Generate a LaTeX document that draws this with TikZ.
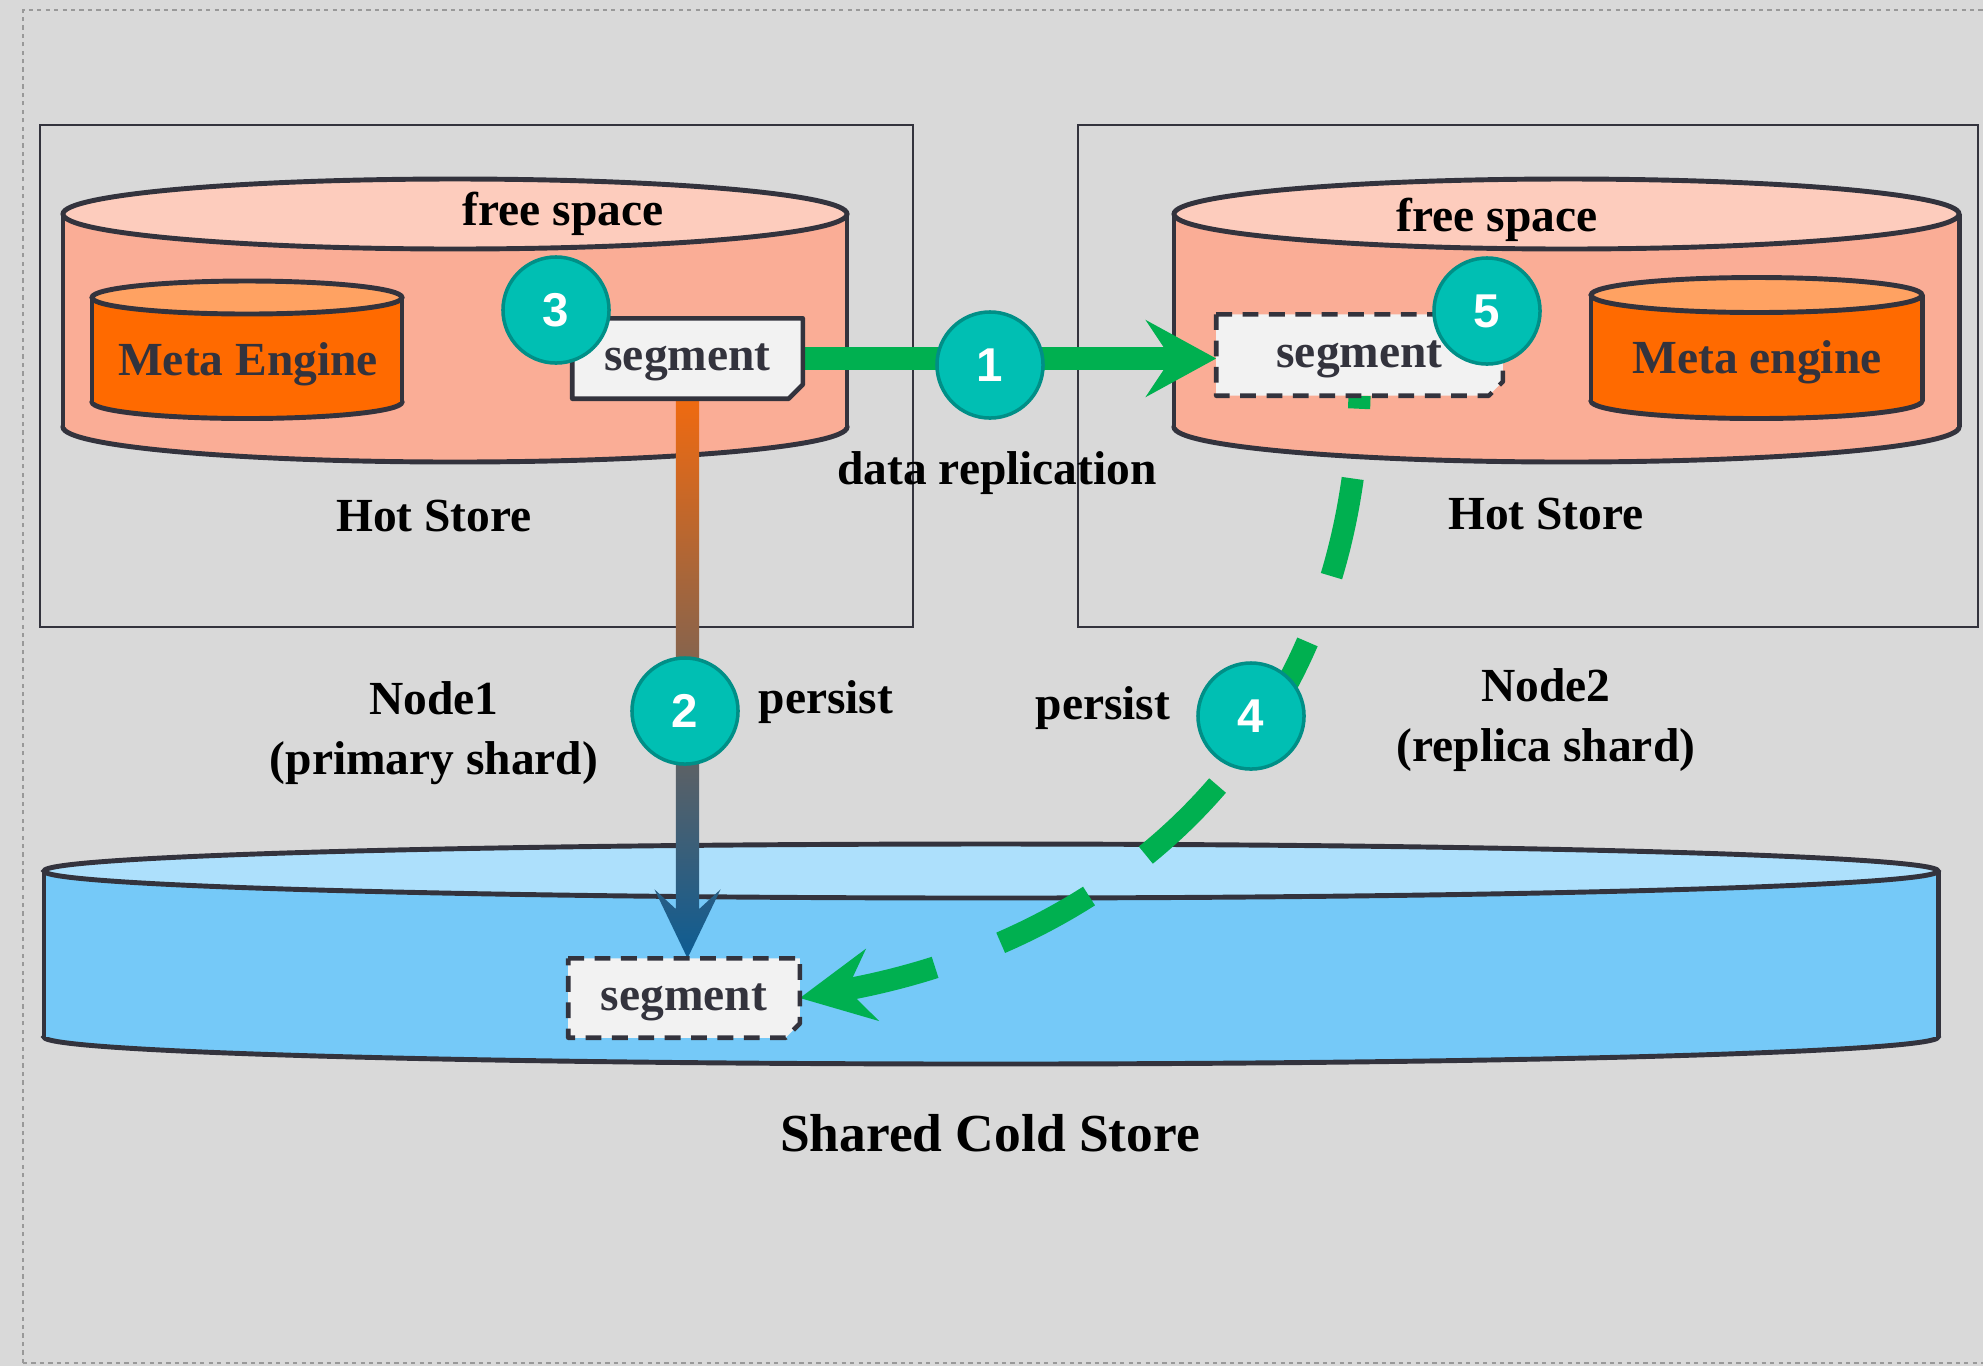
\documentclass[tikz,border=0pt]{standalone}
\usepackage{fontspec}
\setmainfont{Liberation Serif}
\newfontfamily\numfont{Liberation Sans}
\usetikzlibrary{arrows.meta,calc}

\definecolor{canvas}{HTML}{D9D9D9}
\definecolor{edge}{HTML}{33333D}
\definecolor{hotbody}{HTML}{FAAD96}
\definecolor{hottop}{HTML}{FDCCBD}
\definecolor{metabody}{HTML}{FF6A00}
\definecolor{metatop}{HTML}{FFA262}
\definecolor{coldbody}{HTML}{75C9F8}
\definecolor{coldtop}{HTML}{ADE0FC}
\definecolor{segfill}{HTML}{F2F2F2}
\definecolor{badgefill}{HTML}{00BFB3}
\definecolor{badgeline}{HTML}{008F87}
\definecolor{flow}{HTML}{00B050}
\definecolor{persisttop}{HTML}{F06A10}
\definecolor{persistbot}{HTML}{0D5C93}

% drum: centre x, top y, bottom y, x radius, y radius, body, lid
\newcommand{\drum}[7]{%
  \filldraw[store, fill=#6] (#1,#3) ellipse[x radius=#4, y radius=#5];
  \fill[#6] (#1-#4,#2) rectangle (#1+#4,#3);
  \draw[store] (#1-#4,#2) -- (#1-#4,#3) (#1+#4,#2) -- (#1+#4,#3);
  \filldraw[store, fill=#7] (#1,#2) ellipse[x radius=#4, y radius=#5];
}
% segment outline with folded corner
\newcommand{\segshape}[2]{%
  \path[#1] (#2.north west) -- (#2.north east) -- ([yshift=4pt]#2.south east)
    -- ([xshift=-4pt]#2.south east) -- (#2.south west) -- cycle;
}

\begin{document}
\begin{tikzpicture}[x=0.01cm, y=-0.01cm,
  lbl/.style={font=\fontsize{13.5}{17}\selectfont\bfseries, align=center, yshift=-1.2pt},
  frame/.style={draw=edge, line width=0.6pt, inner sep=0pt},
  store/.style={draw=edge, line width=1.4pt},
  seghold/.style={inner sep=0pt, minimum height=0.79cm},
  segline/.style={draw=edge, line width=1.3pt, fill=segfill, line join=round},
  segdash/.style={segline, dash pattern=on 4.5pt off 3pt},
  segtext/.style={lbl, text=edge},
  badge/.style={circle, draw=badgeline, fill=badgefill, line width=1pt,
    minimum size=1.06cm, inner sep=0pt, text=white,
    font=\numfont\fontsize{13.5}{13.5}\selectfont\bfseries},
  replicate/.style={draw=flow, line width=6.3pt,
    -{Stealth[length=0.7cm, width=0.76cm, inset=0.25cm]}},
  copydash/.style={draw=flow, line width=6.3pt,
    dash pattern=on 1cm off 0.7cm, dash phase=0.87cm,
    -{Stealth[length=0.73cm, width=0.72cm, inset=0.25cm]}}
]
\useasboundingbox[fill=canvas] (0,0) rectangle (1983,1366);
\draw[draw=gray!80, line width=0.8pt, dash pattern=on 1.2pt off 1.2pt]
  (23,1363) -- (23,10) -- (1983,10) (23,1363) -- (1983,1363);

% node frames
\node[frame, minimum width=8.73cm, minimum height=5.02cm] (host1) at (476.5,376) {};
\node[frame, minimum width=9.00cm, minimum height=5.02cm] (host2) at (1528,376) {};

% stores
\drum{455}{214}{427}{392}{35}{hotbody}{hottop}
\drum{1566.5}{214}{427}{392.5}{35}{hotbody}{hottop}
\drum{247}{297.5}{402}{155}{16.5}{metabody}{metatop}
\drum{1756.5}{295}{401}{165.5}{17.5}{metabody}{metatop}
\drum{991}{871}{1037}{947}{27}{coldbody}{coldtop}

% labels
\node[lbl] (free1) at (563,210) {free space};
\node[lbl] (free2) at (1497,216) {free space};
\node[lbl, text=edge] (meta1) at (248,360) {Meta Engine};
\node[lbl, text=edge] (meta2) at (1757,358) {Meta engine};
\node[lbl] (hot1) at (434,512) {Hot Store};
\node[lbl] (hot2) at (1546,510) {Hot Store};
\node[lbl] (repl) at (997,469) {data replication};
\node[lbl] (node1) at (434,729) {Node1\\(primary shard)};
\node[lbl] (node2) at (1546,716) {Node2\\(replica shard)};
\node[lbl] (pers2) at (826,698) {persist};
\node[lbl] (pers4) at (1103,704) {persist};
\node[lbl, font=\fontsize{15.2}{18}\selectfont\bfseries] (cold) at (990,1129) {Shared Cold Store};

% segments
\node[seghold, minimum width=2.29cm] (seg1) at (687.5,358.5) {};
\node[seghold, minimum width=2.85cm, minimum height=0.80cm] (seg2) at (1359.5,355) {};
\node[seghold, minimum width=2.30cm, minimum height=0.78cm] (seg3) at (684,998) {};

% flows
\draw[replicate] (seg1.east) -- (seg1.east -| seg2.west);
\coordinate (tip2) at (seg1.south |- seg3.north);
\shade[top color=persisttop, bottom color=persistbot]
  ([xshift=-3.3pt]seg1.south) -- ([xshift=3.3pt]seg1.south)
  -- ([xshift=3.3pt,yshift=14pt]tip2) -- ([xshift=9.4pt,yshift=19.6pt]tip2)
  -- (tip2) -- ([xshift=-9.4pt,yshift=19.6pt]tip2)
  -- ([xshift=-3.3pt,yshift=14pt]tip2) -- cycle;
\draw[copydash] (seg2.south) .. controls (1350,740) and (1120,940) .. (seg3.east);

\segshape{segline}{seg1}
\segshape{segdash}{seg2}
\segshape{segdash}{seg3}
\node[segtext] at (seg1) {segment};
\node[segtext] at (seg2) {segment};
\node[segtext] at (seg3) {segment};

% steps
\node[badge] (b3) at (556,310) {3};
\node[badge] (b1) at (990,365) {1};
\node[badge] (b5) at (1487,311) {5};
\node[badge] (b2) at (685,711) {2};
\node[badge] (b4) at (1251,716) {4};
\end{tikzpicture}
\end{document}
